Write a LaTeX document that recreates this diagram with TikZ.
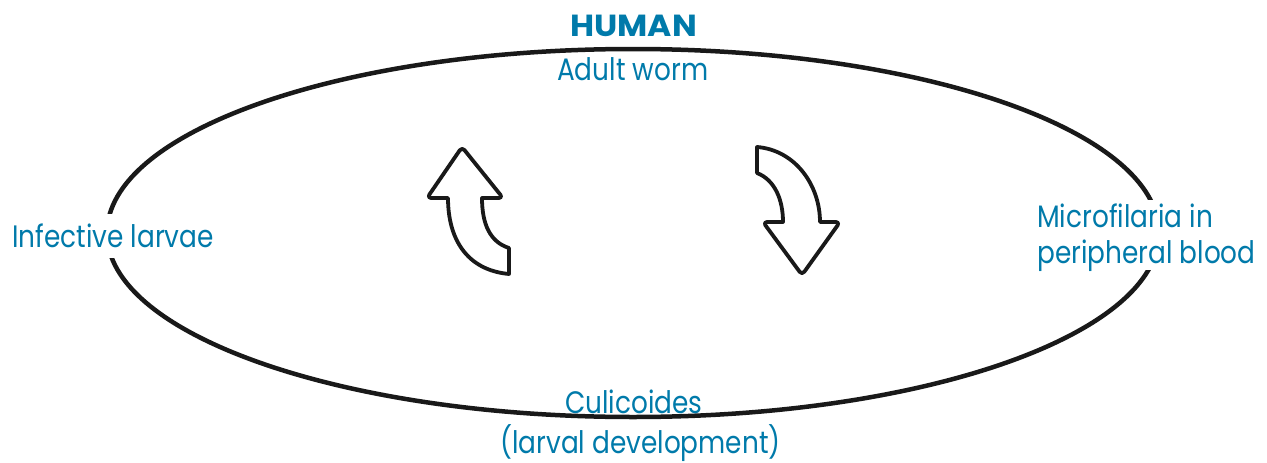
\documentclass[tikz,border=0pt]{standalone}
\usepackage{fontspec}
\usetikzlibrary{shapes.geometric}
\setmainfont{Poppins}[FakeStretch=0.85,BoldFeatures={FakeStretch=1.08}]
\definecolor{labelblue}{RGB}{0,122,170}
\begin{document}
\begin{tikzpicture}[x=1pt,y=-1pt,
  lbl/.style={text=labelblue,font=\fontsize{31}{36}\selectfont,inner sep=0pt,anchor=base west},
  ttl/.style={text=labelblue,font=\fontsize{30.5}{36}\selectfont\bfseries,inner sep=0pt,anchor=base west},
  ring/.style={draw=black!90,line width=4.5pt},
  curvedarrow/.style={draw=black!90,fill=white,line width=3.8pt,line join=round}]
\useasboundingbox (0,0) rectangle (1267,463);
\node[ring,ellipse,minimum width=1052pt,minimum height=368pt,inner sep=0pt] (loop) at (633,233) {};
% white masks where the side labels cut the ring
\fill[white] (8,214) rectangle (214,258);
\fill[white] (1030,200) rectangle (1262,270);
\node[ttl] (human) at (570,36) {HUMAN};
\node[lbl] (adult) at (557,80) {Adult worm};
\node[lbl] (infective) at (12,247) {Infective larvae};
\node[lbl] (micro1) at (1037,227) {Microfilaria in};
\node[lbl] (micro2) at (1037,263) {peripheral blood};
\node[lbl] (culi) at (565,413) {Culicoides};
\node[lbl] (larval) at (500,453) {(larval development)};
% up arrow (left)
\path[curvedarrow] (509,274) -- (509,248) .. controls (490,242) and (482,224) .. (482,198)
  [rounded corners=4pt] -- (503,198) -- (462,147) -- (427,198) [sharp corners] -- (448,198)
  .. controls (448,238) and (466,270) .. (509,274) -- cycle;
% down arrow (right)
\path[curvedarrow] (757,147) -- (757,173) .. controls (775,180) and (783,200) .. (783,222)
  [rounded corners=4pt] -- (763,222) -- (802,275) -- (840,222) [sharp corners] -- (820,222)
  .. controls (820,185) and (795,150) .. (757,147) -- cycle;
\end{tikzpicture}
\end{document}
